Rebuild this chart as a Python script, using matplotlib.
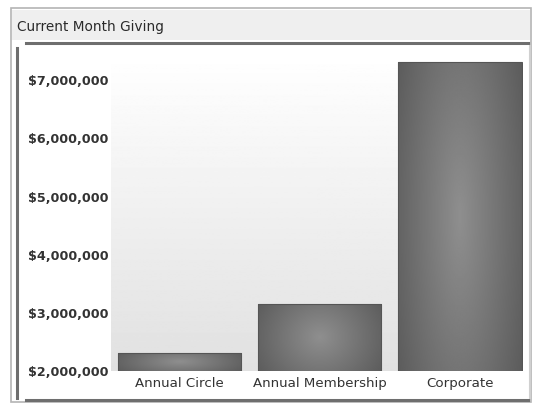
import numpy as np
import matplotlib.pyplot as plt
from matplotlib.patches import Rectangle
from matplotlib.lines import Line2D
from matplotlib.ticker import FuncFormatter

categories = ["Annual Circle", "Annual Membership", "Corporate"]
giving = [2310000, 3155000, 7310000]
y_ticks = [2000000, 3000000, 4000000, 5000000, 6000000, 7000000]

W, H = 536, 404
fig = plt.figure(figsize=(W / 100, H / 100), dpi=100)
fig.patch.set_facecolor("white")

def px(x, y, w, h):
    # pixel box (top-left origin) -> figure fraction
    return (x / W, 1 - (y + h) / H, w / W, h / H)

# outer panel and title bar (kept behind the axes)
x0, y0, w0, h0 = px(11, 8, 520, 394)
fig.add_artist(Rectangle((x0, y0), w0, h0, transform=fig.transFigure,
                         facecolor="white", edgecolor="#b4b4b4", lw=1.2, zorder=-3))
x0, y0, w0, h0 = px(12, 10, 518, 30)
fig.add_artist(Rectangle((x0, y0), w0, h0, transform=fig.transFigure,
                         facecolor="#efefef", edgecolor="none", zorder=-2))
fig.text(17 / W, 1 - 27 / H, "Current Month Giving", fontsize=9.8,
         color="#2a2a2a", va="center", ha="left")

# inner frame lines
fig.add_artist(Line2D([26 / W, 528 / W], [1 - 43 / H] * 2, transform=fig.transFigure,
                      color="#6e6e6e", lw=2.2))
fig.add_artist(Line2D([17 / W] * 2, [1 - 48 / H, 1 - 398 / H], transform=fig.transFigure,
                      color="#6e6e6e", lw=2.2))
fig.add_artist(Line2D([26 / W, 528 / W], [1 - 400 / H] * 2, transform=fig.transFigure,
                      color="#6e6e6e", lw=2.2))
fig.add_artist(Line2D([530 / W] * 2, [1 - 46 / H, 1 - 398 / H], transform=fig.transFigure,
                      color="#d0d0d0", lw=1.5))

ax = fig.add_axes(px(111, 53, 412, 318))
ax.patch.set_alpha(0)
ax.set_xlim(-0.49, 2.45)
ax.set_ylim(2000000, 7470000)

# background gradient (white at top to light gray at bottom)
bg = np.linspace(0.88, 1.0, 256).reshape(-1, 1)
ax.imshow(bg, extent=[-0.49, 2.45, 2000000, 7470000], aspect="auto",
          cmap="gray", vmin=0, vmax=1, origin="lower", zorder=0)

bars = ax.bar(range(len(categories)), giving, width=0.88, bottom=0,
              color="none", edgecolor="#555555", lw=0.8, zorder=3)

# shaded bars: lighter in the middle, darker at the sides
gx, gy = np.meshgrid(np.linspace(-1, 1, 200), np.linspace(-1, 1, 200))
r = np.sqrt(gx ** 2 + (0.6 * gy) ** 2)
shade = 0.56 - 0.17 * np.clip(r, 0, 1.2)
for i, b in enumerate(bars):
    left = i - 0.44
    im = ax.imshow(shade, extent=[left, left + 0.88, 2000000, giving[i]],
                   aspect="auto", cmap="gray", vmin=0, vmax=1, zorder=2)
    clip = Rectangle((left, 0), 0.88, giving[i], transform=ax.transData)
    im.set_clip_path(clip)

ax.set_xlim(-0.49, 2.45)
ax.set_ylim(2000000, 7470000)
ax.set_xticks(range(len(categories)))
ax.set_xticklabels(categories)
ax.set_yticks(y_ticks)
ax.yaxis.set_major_formatter(FuncFormatter(lambda v, p: "${:,.0f}".format(v)))
for lbl in ax.get_yticklabels():
    lbl.set_fontweight("semibold")
ax.tick_params(axis="x", length=0, labelsize=9.6, colors="#333333", pad=4)
ax.tick_params(axis="y", length=0, labelsize=9.2, colors="#333333", pad=2)
for s in ax.spines.values():
    s.set_visible(False)

fig.savefig("out.png", dpi=100)
